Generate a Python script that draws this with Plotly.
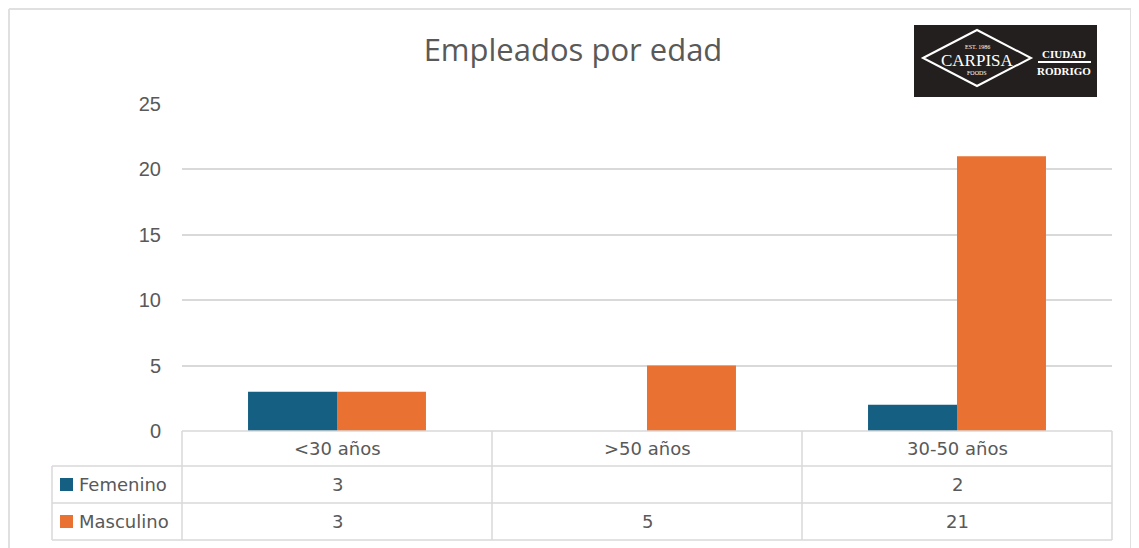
import plotly.graph_objects as go

# data
categories = ["<30 años", ">50 años", "30-50 años"]
series_names = ["Femenino", "Masculino"]
femenino = [3, None, 2]
masculino = [3, 5, 21]
series_values = [femenino, masculino]
colors = ["#156082", "#E97132"]
y_ticks = [0, 5, 10, 15, 20, 25]

W, H = 1139, 548
OFF = 8  # page body margin around the plot div
GRID = "#d9d9d9"
TXT = "#595959"
FONT = "DejaVu Sans, Open Sans, sans-serif"


def fx(x):
    return (x - OFF) / W


def fy(y):
    return 1 - (y - OFF) / H


fig = go.Figure()
for name, vals, col in zip(series_names, series_values, colors):
    fig.add_trace(go.Bar(
        x=categories, y=vals, name=name, marker_color=col,
        marker_line_width=0, hoverinfo="x+y+name",
    ))

shapes = []
annotations = []


def label(text, x, y, size, color=TXT, family=FONT, xanchor="center"):
    annotations.append(dict(x=fx(x), y=fy(y), xref="paper", yref="paper",
                            text=text, showarrow=False,
                            xanchor=xanchor, yanchor="middle",
                            font=dict(size=size, color=color, family=family)))


def hline(y, x0, x1, color=GRID, width=1.5):
    shapes.append(dict(type="line", xref="paper", yref="paper",
                       x0=fx(x0), x1=fx(x1), y0=fy(y), y1=fy(y),
                       line=dict(color=color, width=width)))


def vline(x, y0, y1, color=GRID, width=1.5):
    shapes.append(dict(type="line", xref="paper", yref="paper",
                       x0=fx(x), x1=fx(x), y0=fy(y0), y1=fy(y1),
                       line=dict(color=color, width=width)))


# outer chart border
hline(9, 9, 1131, "#e0e0e0", 2)
vline(9, 9, 560, "#e0e0e0", 2)
vline(1131, 9, 560, "#e0e0e0", 2)

# data table grid
plot_l, plot_r = 182, 1112
col_edges = [182, 492, 802, 1112]
row_edges = [431, 466, 503, 540]
label_l = 52

hline(row_edges[0], plot_l, plot_r)
for y in row_edges[1:]:
    hline(y, label_l, plot_r)
for x in col_edges:
    vline(x, row_edges[0], row_edges[-1])
vline(label_l, row_edges[1], row_edges[-1])

# header row: categories
for i, cat in enumerate(categories):
    cx = (col_edges[i] + col_edges[i + 1]) / 2
    cy = (row_edges[0] + row_edges[1]) / 2
    label(cat, cx, cy, 18)

# series rows: legend key, name, values
for r, (name, vals, col) in enumerate(zip(series_names, series_values, colors)):
    cy = (row_edges[r + 1] + row_edges[r + 2]) / 2
    shapes.append(dict(type="rect", xref="paper", yref="paper",
                       x0=fx(60), x1=fx(73), y0=fy(cy + 6.5), y1=fy(cy - 6.5),
                       fillcolor=col, line=dict(width=0)))
    label(name, 77, cy, 18, xanchor="left")
    for i, v in enumerate(vals):
        cx = (col_edges[i] + col_edges[i + 1]) / 2
        label("" if v is None else str(v), cx, cy, 18)

# logo block
shapes.append(dict(type="rect", xref="paper", yref="paper",
                   x0=fx(914), x1=fx(1097), y0=fy(97), y1=fy(25),
                   fillcolor="#231f1e", line=dict(width=0)))
dcx, dcy = 977, 58
path = "M {} {} L {} {} L {} {} L {} {} Z".format(
    fx(923), fy(dcy), fx(dcx), fy(30), fx(1031), fy(dcy), fx(dcx), fy(86))
shapes.append(dict(type="path", xref="paper", yref="paper", path=path,
                   line=dict(color="white", width=2)))
shapes.append(dict(type="line", xref="paper", yref="paper",
                   x0=fx(1038), x1=fx(1091), y0=fy(62), y1=fy(62),
                   line=dict(color="white", width=2)))
SERIF = "Liberation Serif, DejaVu Serif, serif"
label("EST. 1986", dcx, 47, 6, "white", SERIF)
label("CARPISA", dcx, 61, 17, "white", SERIF)
label("FOODS", dcx, 73, 6, "white", SERIF)
label("<b>CIUDAD</b>", 1064, 54, 11, "white", SERIF)
label("<b>RODRIGO</b>", 1064, 71, 11, "white", SERIF)

fig.update_layout(
    width=W, height=H,
    margin=dict(l=0, r=0, t=0, b=0, autoexpand=False),
    paper_bgcolor="white", plot_bgcolor="white",
    showlegend=False,
    barmode="group", bargap=0.426, bargroupgap=0,
    title=dict(text="Empleados por edad", x=fx(573), xanchor="center",
               y=fy(50), yanchor="middle",
               font=dict(size=31, color=TXT, family="Open Sans, sans-serif")),
    xaxis=dict(domain=[fx(plot_l), fx(plot_r)], range=[-0.5, 2.5],
               showticklabels=False, showgrid=False, zeroline=False,
               showline=False, fixedrange=True),
    yaxis=dict(domain=[fy(431), fy(104)], range=[0, 25],
               tickvals=y_ticks, showgrid=True, gridcolor=GRID, gridwidth=1.5,
               zeroline=False, showline=False, ticklabelstandoff=20,
               tickfont=dict(size=20, color=TXT,
                             family="Liberation Sans, Arial, sans-serif")),
    shapes=shapes,
    annotations=annotations,
)

fig.write_html("out.html")
